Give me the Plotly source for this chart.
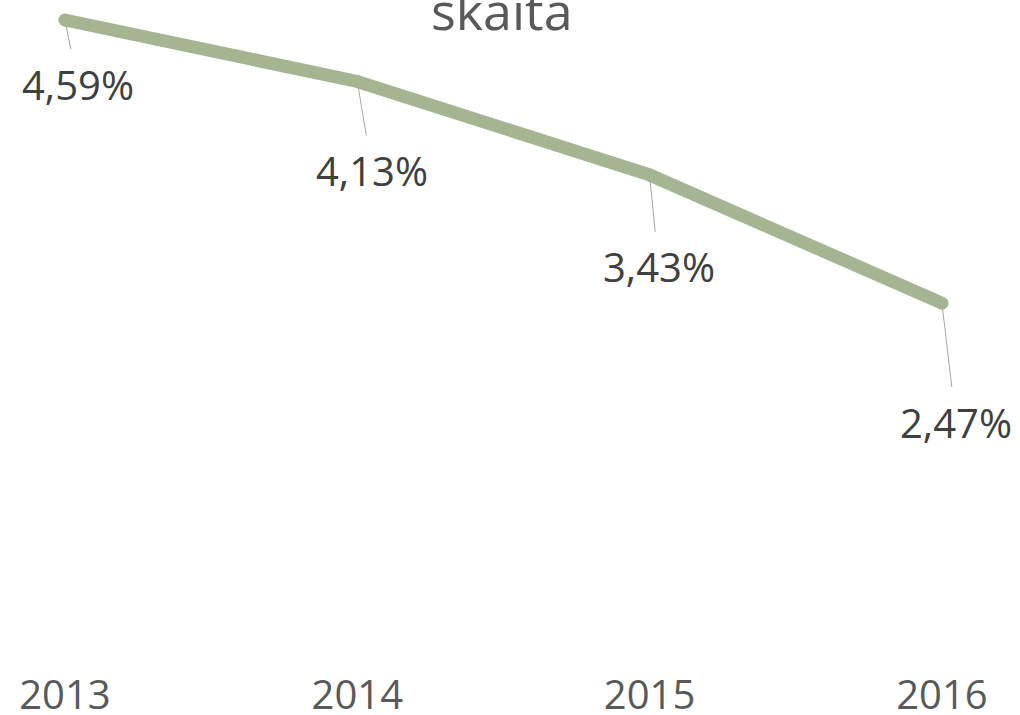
import plotly.graph_objects as go

years = [2013, 2014, 2015, 2016]
values = [4.59, 4.13, 3.43, 2.47]
labels = ["4,59%", "4,13%", "3,43%", "2,47%"]
label_dx = [13, 15, 9, 14]
label_dy = [64, 89, 92, 119]
title_text = "skaita"

line_color = "#A5B592"

fig = go.Figure()
fig.add_trace(go.Scatter(
    x=years, y=values, mode="lines+markers",
    line=dict(color=line_color, width=13),
    marker=dict(color=line_color, size=13),
    hoverinfo="skip", showlegend=False,
))

for xv, yv, t, dx, dy in zip(years, values, labels, label_dx, label_dy):
    fig.add_annotation(
        x=xv, y=yv, xref="x", yref="y", text=t,
        showarrow=True, arrowhead=0, arrowwidth=1, arrowcolor="#A6A6A6",
        ax=dx, ay=dy, axref="pixel", ayref="pixel",
        standoff=2, startstandoff=6,
        font=dict(family="Open Sans", size=40, color="#404040"),
    )

fig.add_annotation(
    x=0.492, y=1, xref="paper", yref="paper", text=title_text,
    showarrow=False, xanchor="center", yanchor="middle", yshift=3,
    font=dict(family="Open Sans", size=52, color="#595959"),
)

fig.update_layout(
    width=1020, height=715,
    margin=dict(l=0, r=0, t=12, b=82),
    paper_bgcolor="white", plot_bgcolor="white",
    xaxis=dict(
        range=[2012.778, 2016.267], tickvals=years, ticktext=[str(y) for y in years],
        showgrid=False, zeroline=False, showline=False, ticks="",
        tickfont=dict(family="Open Sans", size=40, color="#595959"),
        ticklabelstandoff=35, automargin=False,
    ),
    yaxis=dict(range=[0, 4.65], visible=False),
)

fig.write_html("out.html")
